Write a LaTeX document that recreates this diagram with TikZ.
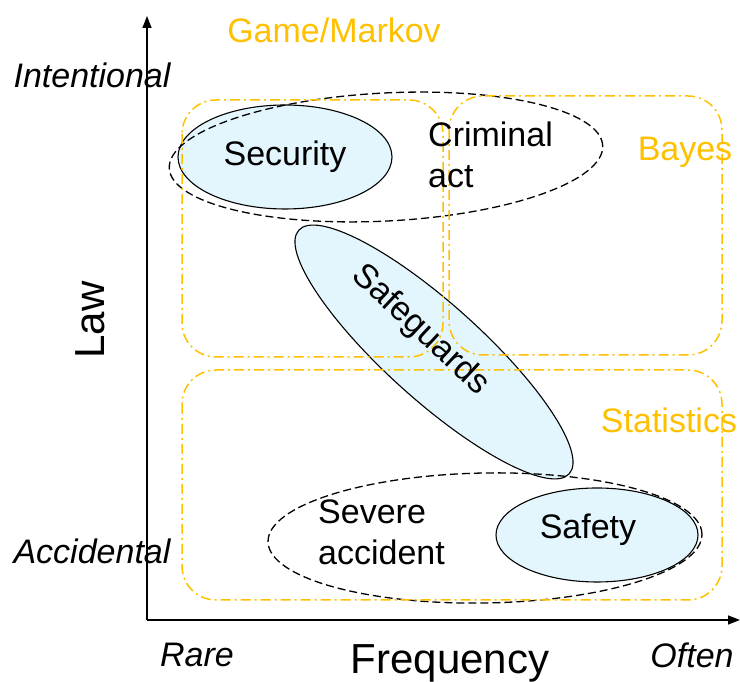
\documentclass[tikz,border=0pt]{standalone}
\usepackage{fontspec}
\setmainfont{Liberation Sans}
\usetikzlibrary{shapes.geometric,arrows.meta}
\definecolor{gold}{RGB}{255,192,0}
\definecolor{paleblue}{RGB}{228,246,253}
\tikzset{
  lbl/.style={font=\fontsize{34}{41}\selectfont, inner sep=0pt},
  axislbl/.style={font=\fontsize{42}{50}\selectfont, inner sep=0pt},
  endlbl/.style={font=\fontsize{34}{41}\selectfont\itshape, inner sep=0pt},
  goldlbl/.style={lbl, text=gold},
  methodbox/.style={draw=gold, line width=1.5pt, rounded corners=34pt,
    dash pattern=on 10pt off 4pt on 2pt off 4pt},
  area/.style={ellipse, draw=black, line width=1.1pt, fill=paleblue,
    inner sep=0pt, outer sep=0pt},
  zone/.style={ellipse, draw=black, line width=1.3pt,
    dash pattern=on 8pt off 4pt, inner sep=0pt, outer sep=0pt},
  axisline/.style={line width=1.6pt, -{Triangle[length=12pt,width=9pt]}}
}
\begin{document}
\begin{tikzpicture}[x=1pt,y=1pt]
\useasboundingbox (0,0) rectangle (740,682);

% axes
\coordinate (origin) at (147,62);
\coordinate (ytop) at (147,666);
\coordinate (xend) at (740,62);
\draw[axisline] (origin) -- (ytop);
\draw[axisline] (origin) -- (xend);

% filled areas
\node[area, minimum width=214pt, minimum height=104pt] (security) at (285,525) {};
\node[area, minimum width=364pt, minimum height=96pt, rotate=-42] (safeguards) at (434,330) {};
\node[area, minimum width=202pt, minimum height=94pt] (safety) at (597,147) {};

% dashed zones
\node[zone, minimum width=434pt, minimum height=128pt, rotate=3] (criminal) at (386,525) {};
\node[zone, minimum width=434pt, minimum height=130pt, rotate=1] (severe) at (485,144) {};

% method domains
\draw[methodbox] (182,582) rectangle (443,325);
\draw[methodbox] (449,586) rectangle (722,327);
\draw[methodbox] (182,312) rectangle (722,82);

% texts
\node[lbl] (tsec) at (security.center) {Security};
\node[lbl, align=left, anchor=west] (tcrim) at (428,527) {Criminal\\act};
\node[lbl, rotate=-43] (tsafeg) at (420,352) {Safeguards};
\node[lbl, align=left, anchor=west] (tsev) at (318,150) {Severe\\accident};
\node[lbl] (tsaf) at (588,152) {Safety};

\node[goldlbl] (game) at (334,652) {Game/Markov};
\node[goldlbl] (bayes) at (685,530) {Bayes};
\node[goldlbl] (stats) at (669,262) {Statistics};

\node[endlbl] (intent) at (92,607) {Intentional};
\node[endlbl] (accid) at (92,131) {Accidental};
\node[endlbl] (rare) at (197,27) {Rare};
\node[endlbl] (often) at (692,27) {Often};
\node[axislbl, rotate=90] (law) at (90,362) {Law};
\node[axislbl] (freq) at (450,19) {Frequency};
\end{tikzpicture}
\end{document}
